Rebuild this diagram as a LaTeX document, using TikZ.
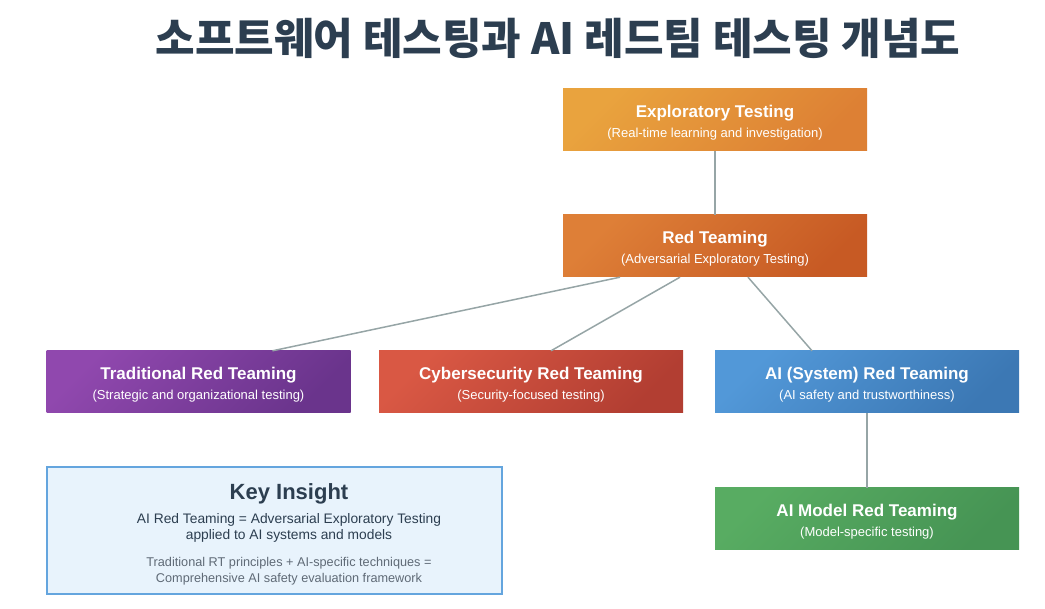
\documentclass[tikz,border=0pt]{standalone}
\usepackage{fontspec}
\setmainfont{Liberation Sans}
\newfontfamily\krfont{Noto Sans CJK KR}
\usepackage{tikz}
\usetikzlibrary{positioning}
\definecolor{titlec}{RGB}{44,62,80}
\definecolor{linkc}{RGB}{150,165,166}
\definecolor{expa}{RGB}{233,163,62}
\definecolor{expb}{RGB}{221,128,52}
\definecolor{rta}{RGB}{222,127,55}
\definecolor{rtb}{RGB}{199,90,36}
\definecolor{trada}{RGB}{144,72,174}
\definecolor{tradb}{RGB}{106,52,140}
\definecolor{cyba}{RGB}{217,88,68}
\definecolor{cybb}{RGB}{178,62,50}
\definecolor{aisa}{RGB}{82,152,216}
\definecolor{aisb}{RGB}{60,120,180}
\definecolor{aima}{RGB}{88,172,98}
\definecolor{aimb}{RGB}{70,148,84}
\definecolor{keyfill}{RGB}{232,243,252}
\definecolor{keyline}{RGB}{100,165,222}
\definecolor{keygrey}{RGB}{95,106,118}
\newcommand{\bxtxt}[2]{\rule{0pt}{18pt}{\bfseries\fontsize{17}{20}\selectfont #1}\\[6pt]{\fontsize{13}{15}\selectfont #2}}

\begin{document}
\begin{tikzpicture}[x=1pt,y=-1pt,
  every node/.style={font=\fontsize{12}{14}\selectfont},
  box/.style={rectangle, minimum width=304pt, minimum height=62pt, inner sep=0pt, align=center, text=white},
  shade2/.style 2 args={top color=#1, bottom color=#2, shading angle=45},
  link/.style={draw=linkc, line width=1.5pt}]
  \useasboundingbox (0,0) rectangle (1045,609);
  % title
  \node[text=titlec, font=\krfont\bfseries\fontsize{43}{48}\selectfont] (title) at (558,38) {소프트웨어 테스팅과 AI 레드팀 테스팅 개념도};
  % boxes
  \node[box, shade2={expa}{expb}] (exp) at (715,120) {\bxtxt{Exploratory Testing}{(Real-time learning and investigation)}};
  \node[box, shade2={rta}{rtb}] (red) at (715,246) {\bxtxt{Red Teaming}{(Adversarial Exploratory Testing)}};
  \node[box, shade2={trada}{tradb}] (trad) at (198.5,382) {\bxtxt{Traditional Red Teaming}{(Strategic and organizational testing)}};
  \node[box, shade2={cyba}{cybb}] (cyber) at (531,382) {\bxtxt{Cybersecurity Red Teaming}{(Security-focused testing)}};
  \node[box, shade2={aisa}{aisb}] (aisys) at (867,382) {\bxtxt{AI (System) Red Teaming}{(AI safety and trustworthiness)}};
  \node[box, shade2={aima}{aimb}] (aimodel) at (867,519) {\bxtxt{AI Model Red Teaming}{(Model-specific testing)}};
  % links
  \draw[link] (exp.south) -- (red.north);
  \draw[link] ([xshift=-95pt]red.south) -- ([xshift=74pt]trad.north);
  \draw[link] ([xshift=-35pt]red.south) -- ([xshift=20pt]cyber.north);
  \draw[link] ([xshift=33pt]red.south) -- ([xshift=-55pt]aisys.north);
  \draw[link] (aisys.south) -- (aimodel.north);
  % key insight
  \node[rectangle, fill=keyfill, draw=keyline, line width=1.5pt, minimum width=455pt, minimum height=127pt] (key) at (274.5,530.5) {};
  \node[align=center, text=titlec, inner sep=0pt, font=\fontsize{13.8}{16}\selectfont] (keytext) at (289,534)
    {{\bfseries\fontsize{22}{24}\selectfont Key Insight}\\[8pt]
     AI Red Teaming = Adversarial Exploratory Testing\\
     applied to AI systems and models\\[11pt]
     {\color{keygrey}\fontsize{12.7}{16}\selectfont Traditional RT principles + AI-specific techniques =}\\
     {\color{keygrey}\fontsize{12.7}{16}\selectfont Comprehensive AI safety evaluation framework}};
\end{tikzpicture}
\end{document}
